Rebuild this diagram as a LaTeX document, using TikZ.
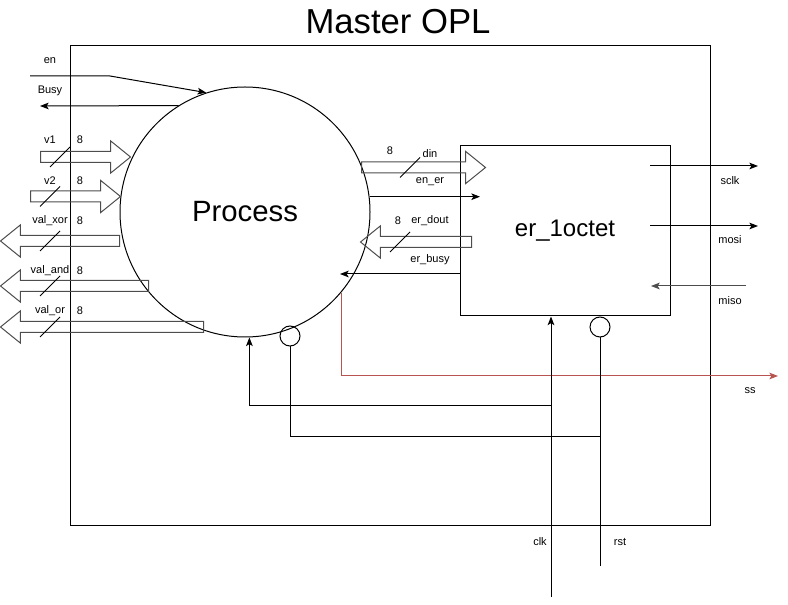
\documentclass[tikz,border=0pt]{standalone}
\usepackage{fontspec}
\setmainfont{Liberation Sans}
\usetikzlibrary{arrows.meta,positioning,shapes.arrows,calc}
\definecolor{opgrey}{HTML}{4D4D4D}
\definecolor{opred}{HTML}{B85450}

\tikzset{
  sig/.style={-{Stealth[length=6.5pt,width=5pt,inset=1.5pt]}},
  bus/.style={single arrow,draw=opgrey,anchor=tail,inner sep=3.75pt,
    single arrow head extend=7.875pt,single arrow tip angle=78,
    minimum height={#1*0.75pt}},
  busl/.style={bus=#1,shape border rotate=180},
  lbl/.style={font=\fontsize{8.25}{10}\selectfont,inner sep=0pt},
  inv/.style={circle,draw,minimum size=15pt,inner sep=0pt},
}

\begin{document}
\begin{tikzpicture}[x=0.75pt,y=-0.75pt,line width=0.75pt]
\useasboundingbox (0,0) rectangle (788,605);
\node[font=\fontsize{26}{30}\selectfont] (title) at (398,22) {Master OPL};
\draw (70,46) rectangle (710,525);

% blocks
\node[circle,draw,minimum size=187.5pt,font=\fontsize{22}{26}\selectfont] (process) at (245,212) {Process};
\node[draw,minimum width=157.5pt,minimum height=127.5pt,font=\fontsize{18}{22}\selectfont] (er) at (565,231) {er\_1octet};
\node[inv] (rstp) at (290,336) {};
\node[inv,anchor=north] (rste) at (er.south -| 600,0) {};

% 8-bit buses
\node[bus=90] (v1) at (40,157) {};
\node[bus=90] (v2) at (30,196.5) {};
\node[busl=119] (valxor) at (120,241) {};
\node[busl=148] (valand) at (149,286) {};
\node[busl=203] (valor) at (204,327) {};
\node[bus=124] (din) at (361,167.5) {};
\node[busl=111] (erdout) at (472,242) {};
\foreach \sx/\sy in {50/157,40/196.5,40/241,40/286,40/327,400/167.5,390/242}
  \draw (\sx,\sy+10) -- ++(20,-20);

% free ends
\coordinate (en-in) at (30,76);
\coordinate (busy-out) at (40,106);
\coordinate (sclk-out) at (758,166);
\coordinate (mosi-out) at (758,226);
\coordinate (miso-in) at (746,286);
\coordinate (ss-out) at (778,376);
\coordinate (clk-in) at (551,597);
\coordinate (rst-in) at (600,566);

% single signals
\draw[sig] (en-in) -- ++(80,0) -- (process.108);
\draw[sig] (process.122) -- (busy-out);
\draw[sig] (process.7) -- (process.7 -| 480,0);
\draw[sig] (er.west |- 0,274) -- (340,274);
\draw[sig] (sclk-out -| 650,0) -- (sclk-out);
\draw[sig] (mosi-out -| 650,0) -- (mosi-out);
\draw[sig,opgrey] (miso-in) -- (miso-in -| 651,0);
\draw[sig,opred] (process.-40) |- (ss-out);
\draw[sig] (clk-in) -- (clk-in |- er.south);
\draw[sig] (clk-in |- 0,406) -| (process.-88);
\draw (rst-in) -- (rste.south);
\draw (rst-in |- 0,436) -| (rstp.south);

% labels
\node[lbl] (l-en) at (50,61) {en};
\node[lbl] (l-busy) at (50,91) {Busy};
\node[lbl] (l-v1) at (50,140) {v1};
\node[lbl] (n-v1) at (80,140) {8};
\node[lbl] (l-v2) at (50,181) {v2};
\node[lbl] (n-v2) at (80,181) {8};
\node[lbl] (l-xor) at (50,221) {val\_xor};
\node[lbl] (n-xor) at (80,221) {8};
\node[lbl] (l-and) at (50,271) {val\_and};
\node[lbl] (n-and) at (80,271) {8};
\node[lbl] (l-or) at (50,311) {val\_or};
\node[lbl] (n-or) at (80,311) {8};
\node[lbl] (n-din) at (390,151) {8};
\node[lbl] (l-din) at (430,154) {din};
\node[lbl] (l-ener) at (430,182) {en\_er};
\node[lbl] (n-dout) at (398,221) {8};
\node[lbl] (l-dout) at (430,221) {er\_dout};
\node[lbl] (l-busy2) at (430,260) {er\_busy};
\node[lbl] (l-sclk) at (730,181) {sclk};
\node[lbl] (l-mosi) at (730,240) {mosi};
\node[lbl] (l-miso) at (730,301) {miso};
\node[lbl] (l-ss) at (750,391) {ss};
\node[lbl] (l-clk) at (540,542) {clk};
\node[lbl] (l-rst) at (620,542) {rst};
\end{tikzpicture}
\end{document}
